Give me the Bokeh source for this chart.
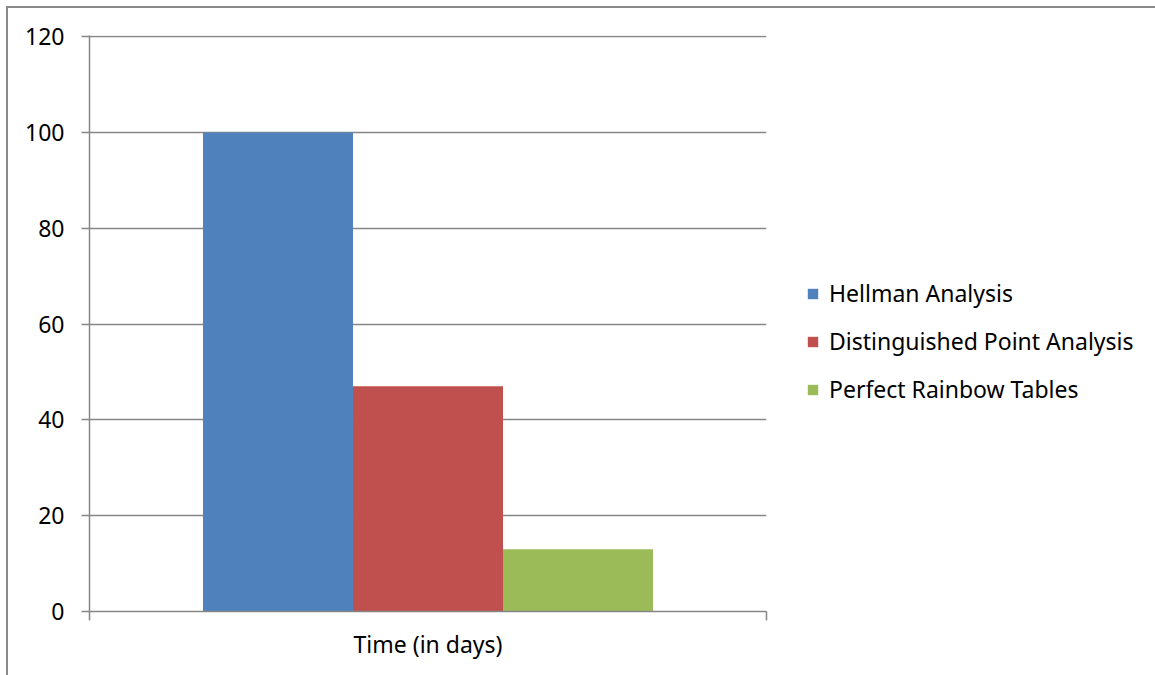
from bokeh.plotting import figure
from bokeh.models import ColumnDataSource, Range1d, FixedTicker, Legend, LegendItem
from bokeh.transform import dodge
from bokeh.embed import file_html
from bokeh.resources import INLINE

categories = ["Time (in days)"]
series = ["Hellman Analysis", "Distinguished Point Analysis", "Perfect Rainbow Tables"]
hellman = [100]
distinguished = [47]
rainbow = [13]
colors = ["#4F81BD", "#C0504D", "#9BBB59"]
y_ticks = [0, 20, 40, 60, 80, 100, 120]

FONT = "Noto Sans"
FS = "23px"
OFF = 8  # content origin (6px margin + 2px border)
Y_TOP = 120.25  # a hair above the top tick so the 120 gridline is not clipped

src = ColumnDataSource(dict(
    x=[i + 0.5 for i in range(len(categories))],
    h=hellman, d=distinguished, r=rainbow,
))

p = figure(frame_width=766 - 89, frame_height=611 - 35, output_backend="svg", toolbar_location=None,
           x_range=Range1d(0, len(categories)), y_range=Range1d(0, Y_TOP),
           min_border_left=89 - OFF, min_border_right=0, min_border_top=35 - OFF,
           min_border_bottom=675 - 611, outline_line_color=None)
p.margin = (0, 0, 0, 0)
p.styles = {"margin-left": "6px", "margin-top": "6px",
            "border-left": "2px solid #8a8a8a", "border-top": "2px solid #8a8a8a"}

w = 0.2216
fields = ["h", "d", "r"]
offs = [-w, 0, w]
renderers = []
for f, o, c in zip(fields, offs, colors):
    r = p.vbar(x=dodge("x", o, range=p.x_range), top=f, width=w, bottom=0, source=src,
               fill_color=c, line_color=None)
    renderers.append(r)

grid = "#868686"
LW = 1.5
p.xgrid.visible = False
p.ygrid.grid_line_color = grid
p.ygrid.grid_line_width = LW
p.yaxis.ticker = FixedTicker(ticks=y_ticks)
p.yaxis.axis_line_color = grid
p.yaxis.axis_line_width = LW
p.yaxis.major_tick_line_color = grid
p.yaxis.major_tick_line_width = LW
p.yaxis.major_tick_out = 8
p.yaxis.major_tick_in = 0
p.yaxis.minor_tick_line_color = None
p.yaxis.major_label_standoff = 17
p.yaxis.major_label_text_font = FONT
p.yaxis.major_label_text_font_size = FS
p.yaxis.major_label_text_color = "black"

p.xaxis.ticker = FixedTicker(ticks=[0, 1])
p.xaxis.major_label_overrides = {0: "", 1: ""}
p.xaxis.axis_line_color = grid
p.xaxis.axis_line_width = LW
p.xaxis.major_tick_line_color = grid
p.xaxis.major_tick_line_width = LW
p.xaxis.major_tick_out = 9
p.xaxis.major_tick_in = 0
p.xaxis.minor_tick_line_color = None
p.xaxis.axis_label = categories[0]
p.xaxis.axis_label_text_font = FONT
p.xaxis.axis_label_text_font_size = FS
p.xaxis.axis_label_text_font_style = "normal"
p.xaxis.axis_label_text_color = "black"
p.xaxis.axis_label_standoff = 7
p.xaxis.major_label_text_font_size = "1px"
p.xaxis.major_label_standoff = 0

legend = Legend(items=[LegendItem(label=s, renderers=[r]) for s, r in zip(series, renderers)],
                location=(40, 206), padding=0, margin=0, border_line_color=None,
                background_fill_alpha=0, glyph_width=13, glyph_height=13, label_standoff=10,
                label_height=20, spacing=16, label_text_font=FONT, label_text_font_size=FS,
                label_text_color="black")
p.add_layout(legend, "right")

open("out.html", "w").write(file_html(p, INLINE))
